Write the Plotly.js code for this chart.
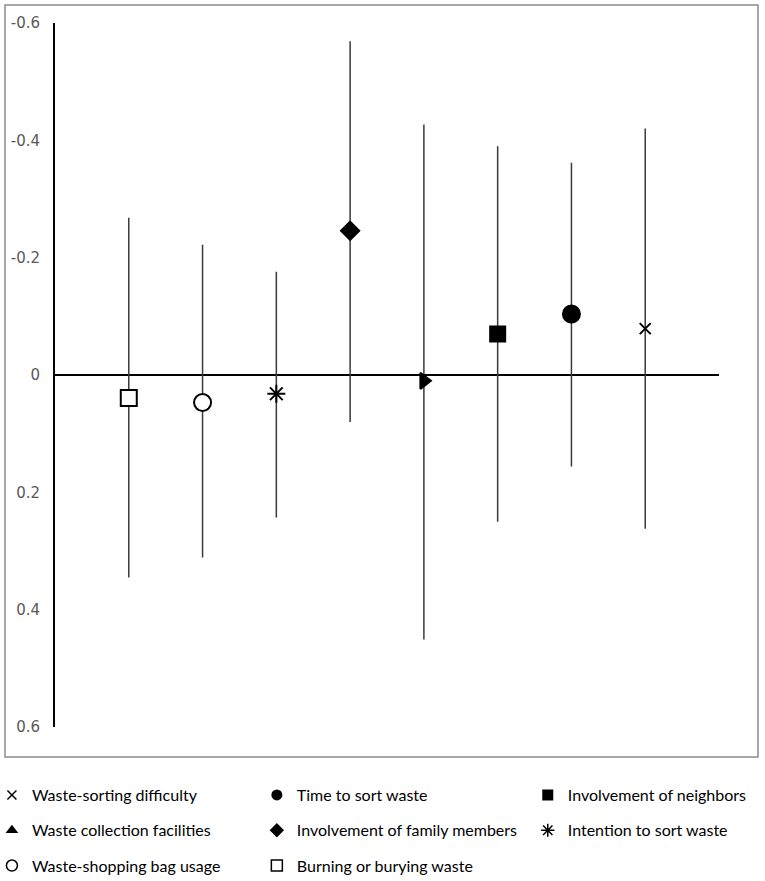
<!DOCTYPE html>
<html>
<head>
<meta charset="utf-8">
<script src="https://cdn.plot.ly/plotly-3.0.1.min.js"></script>
<style>
  html, body { margin: 0; padding: 0; background: #fff; }
  #graph { width: 765px; height: 881px; }
</style>
</head>
<body>
<div id="graph"></div>
<script>
// factors, left to right along the chart
const factors = [
  'Burning or burying waste',
  'Waste-shopping bag usage',
  'Intention to sort waste',
  'Involvement of family members',
  'Waste collection facilities',
  'Involvement of neighbors',
  'Time to sort waste',
  'Waste-sorting difficulty'
];
// point estimates
const estimates = [0.039, 0.047, 0.032, -0.246, 0.010, -0.070, -0.104, -0.079];
// interval ends: upper one on screen (more negative) and lower one
const ciTop = [-0.268, -0.222, -0.176, -0.569, -0.427, -0.390, -0.362, -0.420];
const ciBottom = [0.345, 0.311, 0.243, 0.080, 0.451, 0.250, 0.156, 0.262];

const yTicks = [-0.6, -0.4, -0.2, 0, 0.2, 0.4, 0.6];
const yTickLabels = ['-0.6', '-0.4', '-0.2', '0', '0.2', '0.4', '0.6'];

// marker per factor, same order as factors
const symbols = ['square', 'circle', 'asterisk-open', 'diamond', 'triangle-right', 'square', 'circle', 'x-thin-open'];
const fills = ['#ffffff', '#ffffff', '#000000', '#000000', '#000000', '#000000', '#000000', '#000000'];
const sizes = [16, 17, 15, 14, 14, 15, 17, 11];

// legend: three columns, read row by row in the picture
const legendCols = [
  ['Waste-sorting difficulty', 'Waste collection facilities', 'Waste-shopping bag usage'],
  ['Time to sort waste', 'Involvement of family members', 'Burning or burying waste'],
  ['Involvement of neighbors', 'Intention to sort waste']
];
const legendSymbols = {
  'Waste-sorting difficulty': 'x-thin-open',
  'Waste collection facilities': 'triangle-up',
  'Waste-shopping bag usage': 'circle-open',
  'Time to sort waste': 'circle',
  'Involvement of family members': 'diamond',
  'Burning or burying waste': 'square-open',
  'Involvement of neighbors': 'square',
  'Intention to sort waste': 'asterisk-open'
};

const xs = factors.map((f, i) => i + 1);

const mainTrace = {
  x: xs,
  y: estimates,
  text: factors,
  type: 'scatter',
  mode: 'markers',
  showlegend: false,
  hoverinfo: 'text+y',
  marker: {
    symbol: symbols,
    size: sizes,
    color: fills,
    opacity: 1,
    line: { color: '#000', width: 2 }
  },
  error_y: {
    type: 'data',
    symmetric: false,
    array: ciBottom.map((v, i) => v - estimates[i]),
    arrayminus: estimates.map((v, i) => v - ciTop[i]),
    width: 0,
    thickness: 1.5,
    color: '#3a3a3a'
  }
};

const legendNames = ['legend', 'legend2', 'legend3'];
const legendTraces = [];
legendCols.forEach((col, c) => {
  col.forEach(name => {
    const sym = legendSymbols[name];
    legendTraces.push({
      x: [null],
      y: [null],
      type: 'scatter',
      mode: 'markers',
      name: name,
      legend: legendNames[c],
      legendgroup: name,
      marker: {
        symbol: sym,
        size: sym.indexOf('x-thin') === 0 ? 9 : 11,
        color: '#000',
        line: { color: '#000', width: sym.indexOf('open') > 0 ? 1.5 : 0 }
      }
    });
  });
});

const legendFont = { family: 'Lato, "Open Sans", sans-serif', size: 16, color: '#000' };
function legendAt(x) {
  return {
    x: x,
    xanchor: 'left',
    y: -0.0725,
    yanchor: 'top',
    orientation: 'v',
    font: legendFont,
    tracegroupgap: 11.5,
    bgcolor: 'rgba(0,0,0,0)',
    borderwidth: 0
  };
}

const layout = {
  width: 765,
  height: 881,
  paper_bgcolor: '#fff',
  plot_bgcolor: '#fff',
  margin: { l: 55, r: 46, t: 23, b: 154, autoexpand: false },
  xaxis: {
    range: [0, 9],
    showgrid: false,
    zeroline: false,
    showticklabels: false,
    showline: false,
    ticks: ''
  },
  yaxis: {
    range: [0.6, -0.6],
    tickvals: yTicks,
    ticktext: yTickLabels,
    showgrid: false,
    zeroline: true,
    zerolinecolor: '#000',
    zerolinewidth: 2,
    showline: true,
    linecolor: '#000',
    linewidth: 2,
    ticks: '',
    ticklabelstandoff: 10,
    tickfont: { family: 'DejaVu Sans, sans-serif', size: 15, color: '#595959' }
  },
  legend: legendAt(-0.095),
  legend2: legendAt(0.304),
  legend3: legendAt(0.712),
  shapes: [{
    type: 'rect',
    xref: 'paper',
    yref: 'paper',
    x0: -0.0753,
    x1: 1.0587,
    y0: -0.0426,
    y1: 1.0256,
    line: { color: '#8c8c8c', width: 1.5 },
    layer: 'below'
  }]
};

Plotly.newPlot('graph', [mainTrace].concat(legendTraces), layout, {
  displayModeBar: false
});
</script>
</body>
</html>
